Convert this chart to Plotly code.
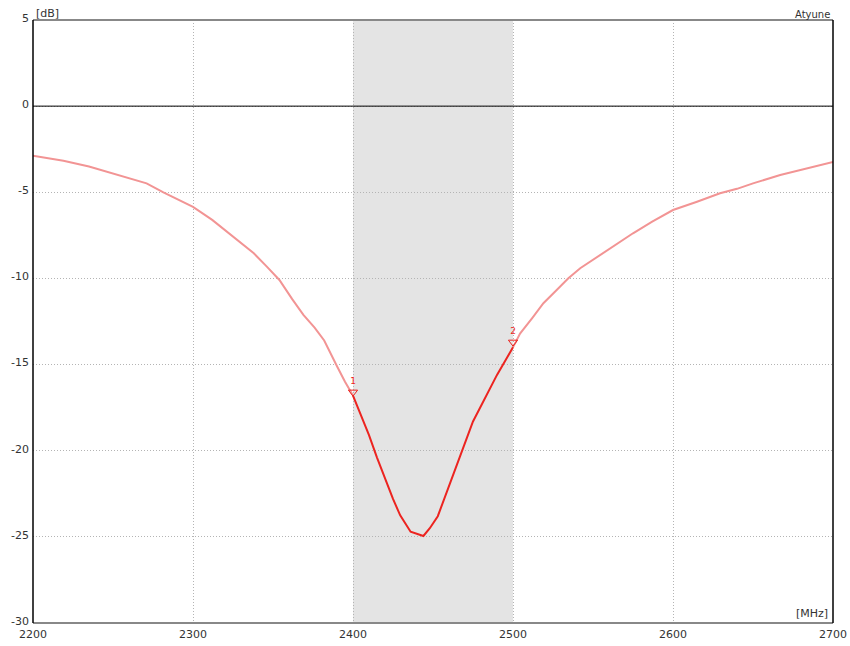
import plotly.graph_objects as go

# Out-of-band (light) curve, low side
freq_low = [2200, 2219, 2235, 2250, 2262, 2271, 2281.5, 2290, 2300, 2312, 2325, 2338, 2346, 2354, 2362, 2369, 2376, 2382, 2390, 2395, 2400]
db_low = [-2.88, -3.17, -3.5, -3.9, -4.25, -4.48, -5.0, -5.4, -5.85, -6.6, -7.58, -8.54, -9.3, -10.09, -11.2, -12.12, -12.85, -13.6, -15.1, -16.0, -16.8]

# In-band (highlighted) curve
freq_in = [2400, 2405, 2410, 2415, 2420, 2425, 2429.5, 2436, 2444, 2448, 2453, 2460, 2467, 2475, 2482, 2490, 2500]
db_in = [-16.8, -17.9, -19.1, -20.4, -21.6, -22.8, -23.75, -24.7, -24.95, -24.5, -23.8, -22.0, -20.3, -18.3, -17.05, -15.6, -14.0]

# Out-of-band (light) curve, high side
freq_high = [2500, 2504.4, 2512, 2519, 2527, 2534.6, 2542, 2554.4, 2565, 2575, 2587, 2600, 2615, 2629.4, 2640, 2650, 2667, 2680, 2690, 2700]
db_high = [-14.0, -13.2, -12.3, -11.44, -10.7, -9.99, -9.41, -8.64, -8.0, -7.38, -6.7, -6.03, -5.55, -5.06, -4.8, -4.48, -4.0, -3.7, -3.45, -3.24]

# Markers
marker_freq = [2400, 2500]
marker_db = [-16.6, -13.7]
marker_labels = ["1", "2"]

band = [2400, 2500]
x_ticks = [2200, 2300, 2400, 2500, 2600, 2700]
y_ticks = [5, 0, -5, -10, -15, -20, -25, -30]
y_tick_labels = ["5", "0", "-5", "-10", "-15", "-20", "-25", "-30"]

light = "#f29494"
red = "#ec2420"
font = "DejaVu Sans"
txt = "#333333"

fig = go.Figure()
fig.add_shape(type="rect", xref="x", yref="paper", x0=band[0], x1=band[1], y0=0, y1=1,
              fillcolor="#e4e4e4", line_width=0, layer="below")
fig.add_trace(go.Scatter(x=freq_low, y=db_low, mode="lines", line=dict(color=light, width=2), hoverinfo="x+y"))
fig.add_trace(go.Scatter(x=freq_high, y=db_high, mode="lines", line=dict(color=light, width=2), hoverinfo="x+y"))
fig.add_trace(go.Scatter(x=freq_in, y=db_in, mode="lines", line=dict(color=red, width=2), hoverinfo="x+y"))
fig.add_trace(go.Scatter(x=marker_freq, y=marker_db, mode="markers+text", text=marker_labels,
                         textposition="top center", textfont=dict(family=font, size=9, color=red),
                         marker=dict(symbol="triangle-down-open", size=8, color=red, line=dict(width=1, color=red))))

# zero line
fig.add_shape(type="line", xref="paper", yref="y", x0=0, x1=1, y0=0, y1=0, line=dict(color="black", width=1))
# borders
fig.add_shape(type="line", xref="paper", yref="paper", x0=0, x1=1, y0=1, y1=1, line=dict(color="#888888", width=2))
fig.add_shape(type="line", xref="paper", yref="paper", x0=0, x1=1, y0=0, y1=0, line=dict(color="#888888", width=2))
fig.add_shape(type="line", xref="paper", yref="paper", x0=0, x1=0, y0=0, y1=1, line=dict(color="black", width=1.5))
fig.add_shape(type="line", xref="paper", yref="paper", x0=1, x1=1, y0=0, y1=1, line=dict(color="black", width=1.5))

fig.add_annotation(text="[dB]", xref="paper", yref="paper", x=0, y=1, xanchor="left", yanchor="bottom",
                   xshift=1, yshift=-2, showarrow=False, font=dict(family=font, size=11, color=txt))
fig.add_annotation(text="Atyune", xref="paper", yref="paper", x=1, y=1, xanchor="right", yanchor="bottom",
                   xshift=-1, yshift=-2, showarrow=False, font=dict(family=font, size=10, color=txt))
fig.add_annotation(text="[MHz]", xref="paper", yref="paper", x=1, y=0, xanchor="right", yanchor="bottom",
                   xshift=-3, yshift=1, showarrow=False, font=dict(family=font, size=11, color=txt))

fig.update_xaxes(range=[2200, 2700], tickvals=x_ticks, showgrid=True, gridcolor="#b4b4b4", griddash="1px,2px",
                 gridwidth=1, zeroline=False, showline=False, ticks="", automargin=False, ticklabelstandoff=3,
                 ticklabeloverflow="allow", tickfont=dict(family=font, size=11, color=txt))
fig.update_yaxes(range=[-30, 5], tickvals=y_ticks, ticktext=y_tick_labels, showgrid=True, gridcolor="#b4b4b4",
                 griddash="1px,2px", gridwidth=1, zeroline=False, showline=False, ticks="", ticklabelstandoff=3,
                 automargin=False, ticklabelshift=-2, ticklabeloverflow="allow",
                 tickfont=dict(family=font, size=11, color=txt))
fig.update_layout(width=850, height=646, margin=dict(l=33, r=17, t=20, b=23, pad=0),
                  plot_bgcolor="white", paper_bgcolor="white", showlegend=False)
# remove the default page margin so the 850x646 figure fills the window exactly
fig.write_html("out.html", config={"displayModeBar": False},
               post_script="document.body.style.margin='0';document.documentElement.style.overflow='hidden';")
